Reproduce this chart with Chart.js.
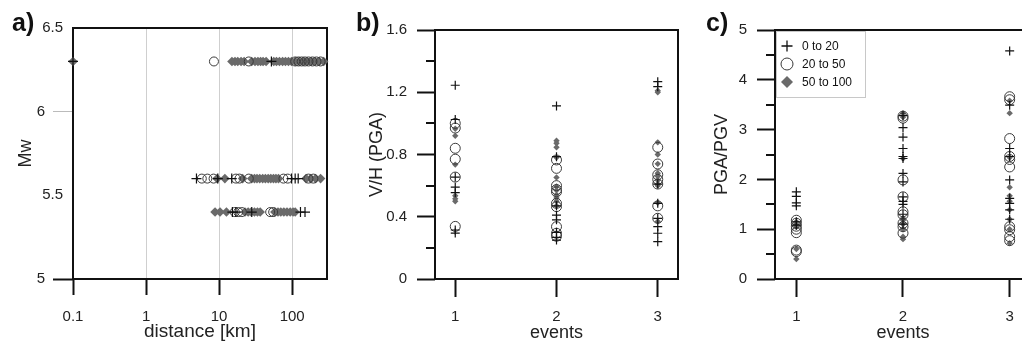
<!DOCTYPE html>
<html>
<head>
<meta charset="utf-8">
<script src="https://cdn.jsdelivr.net/npm/chart.js@4.4.1/dist/chart.umd.min.js"></script>
<style>
  html, body { margin:0; padding:0; background:#fff; overflow:hidden; }
  body { width:1022px; height:341px; position:relative; font-family:"Liberation Sans", Arial, sans-serif; }
  .panel { position:absolute; top:0; }
  .panel canvas { display:block; }
  .tag { position:absolute; top:9px; font-weight:bold; font-size:25px; line-height:26px; color:#111; }
</style>
</head>
<body>
<div class="panel" style="left:0"><canvas id="chart-a" width="345" height="341"></canvas></div>
<div class="panel" style="left:340px"><canvas id="chart-b" width="345" height="341"></canvas></div>
<div class="panel" style="left:680px"><canvas id="chart-c" width="360" height="341"></canvas></div>
<div class="tag" style="left:12px">a)</div>
<div class="tag" style="left:356px">b)</div>
<div class="tag" style="left:706px">c)</div>

<script>
/* ---------- data ---------- */
const seriesNames = ['0 to 20', '20 to 50', '50 to 100'];

// a) distance [km] per magnitude row
const mwRows = [6.3, 5.6, 5.4];
const distCross = [
  [0.1, 52],
  [4.9, 9.6, 14.9, 98, 110, 121],
  [15.2, 17, 28, 130, 150]
];
const distCircle = [
  [8.5, 25.5, 110, 122, 135, 150, 168, 190, 215, 245],
  [5.8, 6.9, 8.4, 17, 19, 25.5, 76, 87, 167, 195],
  [16.4, 18.3, 20.5, 50, 55]
];
const distDiamond = [
  [0.1, 15, 16.5, 18, 20, 22, 28, 31, 34, 37, 40, 44, 56, 61, 67, 74, 81, 89, 98, 110, 125, 142, 160, 182, 205, 235, 270],
  [9.4, 12, 21, 28, 30.5, 33, 36, 39.5, 43, 47, 51, 55.5, 60, 65, 155, 180, 210, 245],
  [8.8, 10.3, 12.6, 22.6, 25, 27.5, 30.5, 33.5, 36.5, 58, 64, 70, 77, 85, 94, 103, 110]
];
const aTicksX = [0.1, 1, 10, 100];
const aTicksY = [5, 6];         // labels with long tick marks
const aHalfTicksY = [5.5, 6.5]; // labels without tick marks, set closer to the axis

// b) V/H (PGA) per event
const events = [1, 2, 3];
const vhCross = [
  [1.245, 1.025, 0.655, 0.59, 0.555, 0.315, 0.295],
  [1.112, 0.786, 0.47, 0.41, 0.38, 0.3, 0.268, 0.25],
  [1.268, 1.236, 0.61, 0.486, 0.39, 0.336, 0.294, 0.24]
];
const vhCircle = [
  [1.0, 0.97, 0.84, 0.77, 0.655, 0.338],
  [0.765, 0.711, 0.6, 0.575, 0.56, 0.486, 0.465, 0.336, 0.294, 0.275],
  [0.846, 0.739, 0.67, 0.64, 0.61, 0.47, 0.39]
];
const vhDiamond = [
  [0.965, 0.92, 0.735, 0.535, 0.515, 0.5],
  [0.889, 0.872, 0.846, 0.78, 0.653, 0.595, 0.57, 0.54, 0.52, 0.5, 0.47],
  [1.21, 1.2, 0.878, 0.8, 0.74, 0.68, 0.66, 0.635, 0.61, 0.6, 0.49, 0.37]
];
const bTicksY = [0, 0.2, 0.4, 0.6, 0.8, 1.0, 1.2, 1.4, 1.6];
const bLabelsY = ['0', '', '0.4', '', '0.8', '', '1.2', '', '1.6'];

// c) PGA/PGV per event
const pgCross = [
  [1.75, 1.66, 1.53, 1.47, 1.15, 1.08],
  [3.28, 3.04, 2.85, 2.62, 2.46, 2.42, 2.12, 1.95, 1.65, 1.56, 1.5, 1.3, 1.1],
  [4.58, 3.49, 2.62, 2.46, 1.99, 1.62, 1.52, 1.39, 1.2]
];
const pgCircle = [
  [1.18, 1.12, 1.06, 1.0, 0.93, 0.58, 0.55],
  [3.27, 3.23, 1.99, 1.65, 1.35, 1.29, 1.12, 1.05, 0.92],
  [3.66, 3.6, 2.82, 2.46, 2.4, 2.25, 1.05, 0.99, 0.85, 0.77]
];
const pgDiamond = [
  [1.15, 1.1, 1.05, 0.6, 0.4],
  [3.33, 3.25, 2.42, 1.22, 1.18, 1.1, 1.0, 0.85, 0.8],
  [3.58, 3.33, 2.44, 1.84, 1.67, 1.56, 1.39, 1.2, 1.0, 0.72]
];
const cTicksY = [0, 0.5, 1, 1.5, 2, 2.5, 3, 3.5, 4, 4.5, 5];
const cLabelsY = ['0', '', '1', '', '2', '', '3', '', '4', '', '5'];

/* ---------- helpers ---------- */
const FONT = '"Liberation Sans", Arial, sans-serif';
const INK = '#111';
const NONE = 'rgba(0,0,0,0)';

const rowPoints = rows => rows.flatMap((ds, i) => ds.map(d => ({ x: d, y: mwRows[i] })));
const colPoints = cols => cols.flatMap((vs, i) => vs.map(v => ({ x: events[i], y: v })));

function styled(kind, label, data, big){
  const base = { label, data, clip: false, pointBorderWidth: 1 };
  if(kind === 'cross') return { ...base, pointStyle:'cross', pointRadius: big ? 5 : 4.5, borderColor: INK, backgroundColor: INK, pointBorderWidth: 1.2 };
  if(kind === 'circle') return { ...base, pointStyle:'circle', pointRadius: big ? 4.5 : 5, borderColor: '#3a3a3a', backgroundColor: NONE };
  return { ...base, pointStyle:'rectRot', pointRadius: big ? 4.8 : 3.2, borderColor: '#6a6a6a', backgroundColor: '#6a6a6a', pointBorderWidth: 0 };
}

const setTicks = arr => scale => { scale.ticks = arr.map(v => ({ value: v })); };

// black box round the plot area
const framePlugin = {
  id: 'frame',
  beforeDatasetsDraw(chart){
    const { ctx, chartArea: a } = chart;
    ctx.save();
    ctx.strokeStyle = INK; ctx.lineWidth = 2;
    ctx.strokeRect(a.left, a.top, a.right - a.left, a.bottom - a.top);
    ctx.restore();
  }
};

// short ticks for the unlabelled y values
const minorTickPlugin = {
  id: 'minorTicks',
  afterDraw(chart, args, opts){
    if(!opts.length) return;
    const y = chart.scales.y, ctx = chart.ctx;
    ctx.save();
    ctx.strokeStyle = INK; ctx.lineWidth = 2;
    y.ticks.forEach(t => {
      if(t.label !== '') return;
      const py = Math.round(y.getPixelForValue(t.value));
      ctx.beginPath(); ctx.moveTo(y.right - opts.length, py); ctx.lineTo(y.right, py); ctx.stroke();
    });
    ctx.restore();
  }
};

// y labels that sit nearer the axis than the main tick labels (panel a)
const nearLabelPlugin = {
  id: 'nearLabels',
  afterDraw(chart, args, opts){
    if(!opts.gap) return;
    const y = chart.scales.y, ctx = chart.ctx;
    ctx.save();
    ctx.fillStyle = '#222'; ctx.font = '15px ' + FONT;
    ctx.textAlign = 'right'; ctx.textBaseline = 'middle';
    aHalfTicksY.forEach(v => ctx.fillText(String(v), y.right - opts.gap, y.getPixelForValue(v)));
    ctx.restore();
  }
};

// legend box in the top-left corner of the plot
const boxLegendPlugin = {
  id: 'boxLegend',
  afterDatasetsDraw(chart, args, opts){
    if(!opts.show) return;
    const { ctx, chartArea: a } = chart;
    const x0 = a.left + 1, y0 = a.top + 1;
    ctx.save();
    ctx.fillStyle = '#fff'; ctx.fillRect(x0, y0, 89, 66);
    ctx.strokeStyle = '#c8c8c8'; ctx.lineWidth = 1;
    ctx.strokeRect(x0 + 0.5, y0 + 0.5, 89, 66);
    chart.data.datasets.forEach((ds, i) => {
      const cx = a.left + 12, cy = a.top + 16 + i * 18;
      ctx.beginPath();
      if(ds.pointStyle === 'cross'){
        ctx.strokeStyle = INK; ctx.lineWidth = 1.3;
        ctx.moveTo(cx - 5.5, cy); ctx.lineTo(cx + 5.5, cy);
        ctx.moveTo(cx, cy - 5.5); ctx.lineTo(cx, cy + 5.5);
        ctx.stroke();
      } else if(ds.pointStyle === 'circle'){
        ctx.strokeStyle = '#3a3a3a'; ctx.lineWidth = 1;
        ctx.arc(cx, cy, 6, 0, Math.PI * 2); ctx.stroke();
      } else {
        ctx.fillStyle = '#6a6a6a';
        ctx.moveTo(cx - 6, cy); ctx.lineTo(cx, cy - 6); ctx.lineTo(cx + 6, cy); ctx.lineTo(cx, cy + 6);
        ctx.closePath(); ctx.fill();
      }
      ctx.fillStyle = INK; ctx.font = '12px ' + FONT;
      ctx.textAlign = 'left'; ctx.textBaseline = 'middle';
      ctx.fillText(ds.label, a.left + 27, cy + 1);
    });
    ctx.restore();
  }
};

Chart.register(framePlugin, minorTickPlugin, nearLabelPlugin, boxLegendPlugin);

const tickFont = { family: FONT, size: 15 };
const titleFont = size => ({ family: FONT, size, lineHeight: 1 });

function eventScale(){
  return {
    type: 'linear', min: 0.8, max: 3.2,
    afterBuildTicks: setTicks(events),
    afterFit: s => { s.height = 62; },
    border: { display: false },
    grid: { drawOnChartArea: false, tickLength: 18, tickWidth: 2, tickColor: INK },
    ticks: { color: '#222', padding: 11, font: tickFont, callback: v => String(v) },
    title: { display: true, text: 'events', color: '#222', padding: { top: 0, bottom: -1 }, font: titleFont(18) }
  };
}

function valueScale(min, max, ticks, labels, title, titlePad){
  return {
    type: 'linear', min, max,
    afterBuildTicks: setTicks(ticks),
    afterFit: s => { s.width = 95; },
    border: { display: false },
    grid: { drawOnChartArea: false, tickLength: 18, tickWidth: 2, tickColor: c => c.tick && c.tick.label === '' ? NONE : INK },
    ticks: { color: '#222', padding: 10, font: tickFont, callback: (v, i) => labels[i] },
    title: { display: true, text: title, color: '#222', padding: { top: titlePad, bottom: 0 }, font: titleFont(18) }
  };
}

const common = {
  responsive: false, animation: false, events: [],
  plugins: { legend: { display: false }, tooltip: { enabled: false } }
};

/* ---------- a) ---------- */
new Chart(document.getElementById('chart-a'), {
  type: 'scatter',
  data: { datasets: [
    styled('cross', seriesNames[0], rowPoints(distCross), true),
    styled('circle', seriesNames[1], rowPoints(distCircle), true),
    styled('diamond', seriesNames[2], rowPoints(distDiamond), true)
  ]},
  options: {
    ...common,
    plugins: { ...common.plugins, nearLabels: { gap: 10 } },
    layout: { padding: { top: 28, right: 18, bottom: 0, left: 0 } },
    scales: {
      x: {
        type: 'logarithmic', min: 0.1, max: 300,
        afterBuildTicks: setTicks(aTicksX),
        afterFit: s => { s.height = 62; },
        border: { display: false },
        grid: { color: c => c.tick && c.tick.value === 0.1 ? NONE : '#cfcfcf', lineWidth: 1, tickLength: 16, tickWidth: 2, tickColor: INK },
        ticks: { color: '#222', padding: 13, font: tickFont, callback: v => String(v) },
        title: { display: true, text: 'distance [km]', color: '#222', padding: { top: 0, bottom: 0 }, font: titleFont(19) }
      },
      y: {
        type: 'linear', min: 5, max: 6.5,
        afterBuildTicks: setTicks(aTicksY),
        afterFit: s => { s.width = 73; },
        border: { display: false },
        grid: { drawOnChartArea: false, tickLength: 20, tickWidth: c => c.tick && c.tick.value === 5 ? 2 : 1,
                tickColor: c => c.tick && c.tick.value === 5 ? INK : '#bbb' },
        ticks: { color: '#222', padding: 8, font: tickFont, callback: v => String(v) },
        title: { display: true, text: 'Mw', color: '#222', padding: { top: 17, bottom: 0 }, font: titleFont(18) }
      }
    }
  }
});

/* ---------- b) ---------- */
new Chart(document.getElementById('chart-b'), {
  type: 'scatter',
  data: { datasets: [
    styled('cross', seriesNames[0], colPoints(vhCross)),
    styled('circle', seriesNames[1], colPoints(vhCircle)),
    styled('diamond', seriesNames[2], colPoints(vhDiamond))
  ]},
  options: {
    ...common,
    plugins: { ...common.plugins, minorTicks: { length: 9 } },
    layout: { padding: { top: 30, right: 7, bottom: 0, left: 0 } },
    scales: { x: eventScale(), y: valueScale(0, 1.6, bTicksY, bLabelsY, 'V/H (PGA)', 28) }
  }
});

/* ---------- c) ---------- */
new Chart(document.getElementById('chart-c'), {
  type: 'scatter',
  data: { datasets: [
    styled('cross', seriesNames[0], colPoints(pgCross)),
    styled('circle', seriesNames[1], colPoints(pgCircle)),
    styled('diamond', seriesNames[2], colPoints(pgDiamond))
  ]},
  options: {
    ...common,
    plugins: { ...common.plugins, minorTicks: { length: 9 }, boxLegend: { show: true } },
    layout: { padding: { top: 30, right: 9, bottom: 0, left: 0 } },
    scales: { x: eventScale(), y: valueScale(0, 5, cTicksY, cLabelsY, 'PGA/PGV', 33) }
  }
});
</script>
</body>
</html>
